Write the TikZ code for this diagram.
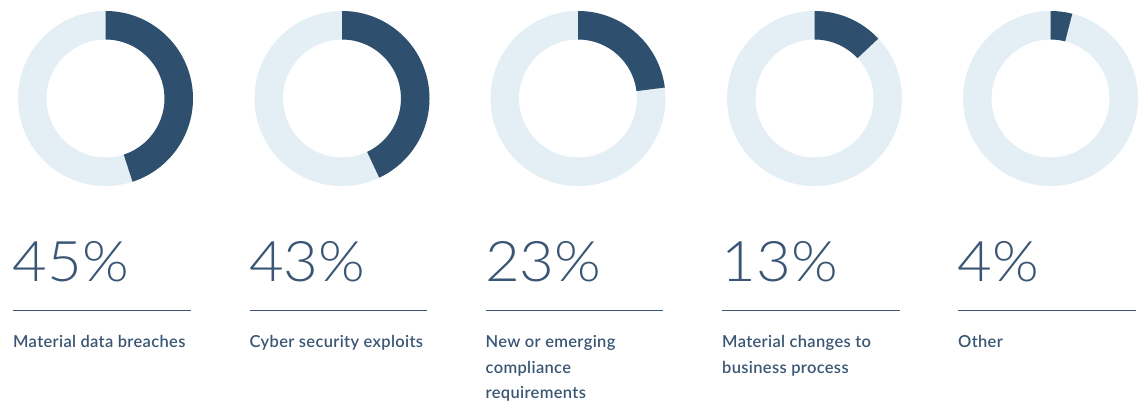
\documentclass[tikz,border=0pt]{standalone}
\usepackage{fontspec}
\setmainfont{Lato Semibold}[LetterSpace=2]
\newfontfamily\pctfont{Lato Light}[FakeStretch=1.07]
\usetikzlibrary{positioning}

\definecolor{ringdark}{HTML}{2F4F6E}
\definecolor{ringlight}{HTML}{E3EEF5}
\definecolor{textblue}{HTML}{3A5674}

\begin{document}
\begin{tikzpicture}[
			x = 1pt,
			y = 1pt,
			inner sep = 0pt]

			\tikzstyle{pct}=[
			anchor = base west,
			text = textblue,
			font = \pctfont\fontsize{56}{60}\selectfont]

			\tikzstyle{caption}=[
			anchor = base west,
			align = left,
			text = textblue,
			font = \fontsize{16.5}{25.5}\selectfont]

			\tikzstyle{rule}=[
			draw = textblue,
			line width = 1pt]

			\useasboundingbox (0,0) rectangle (1145,402);

			\foreach \i/\cx/\p/\n/\txt in {
				1/105.5/45/1/{Material data breaches},
				2/342/43/1/{Cyber security exploits},
				3/578/23/3/{New or emerging\\compliance\\requirements},
				4/814.5/13/2/{Material changes to\\business process},
				5/1050.5/4/1/{Other}} {
				% ring
				\coordinate (c\i) at (\cx,303.5);
				\fill[ringlight, even odd rule] (c\i) circle (87.5pt) (c\i) circle (59pt);
				\pgfmathsetmacro{\e}{90-3.6*\p}
				\fill[ringdark] (c\i) ++(90:87.5pt)
					arc[start angle=90, end angle=\e, radius=87.5pt]
					-- ++(\e+180:28.5pt)
					arc[start angle=\e, end angle=90, radius=59pt] -- cycle;
				% value, rule and caption (base = last line)
				\node[pct] (pct\i) at (\cx-93,121) {\p\%};
				\coordinate (rl\i) at (\cx-92.5,92);
				\coordinate (rr\i) at (\cx+85,92);
				\draw[rule] (rl\i) -- (rr\i);
				\node[caption] (lbl\i) at (\cx-92.5,54.5-25.5*\n+25.5) {\txt};
			}
		\end{tikzpicture}
\end{document}
